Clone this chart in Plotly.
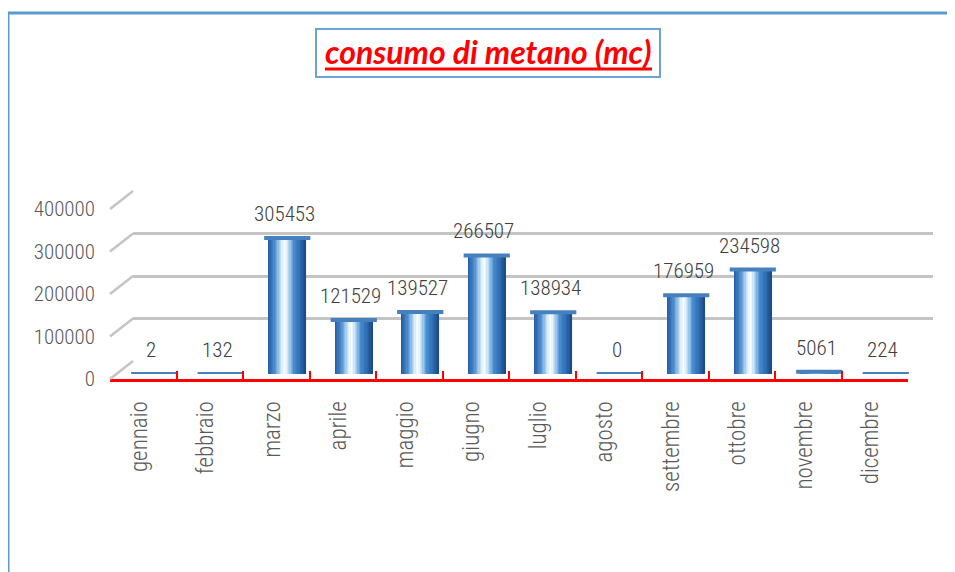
import plotly.graph_objects as go

months = ["gennaio", "febbraio", "marzo", "aprile", "maggio", "giugno",
          "luglio", "agosto", "settembre", "ottobre", "novembre", "dicembre"]
values = [2, 132, 305453, 121529, 139527, 266507, 138934, 0, 176959, 234598, 5061, 224]
y_ticks = [0, 100000, 200000, 300000, 400000]
title_text = "consumo di metano (mc)"

W, H = 955, 572
OX, OY = 8, 8   # page body margin compensation
FONT_N = "Roboto Condensed, Liberation Sans Narrow, Arial Narrow, sans-serif"


def px(x):
    return (x - OX) / W


def py(y):
    return 1 - (y - OY) / H


# front (labels) axes, back wall (grid), bars (middle depth)  -- page pixel positions
front_x = (110, 908)
front_y = (379, 209)   # pixel rows for 0 and 400000
back_x = (133, 933)
back_y = (361, 191)
bar_x = (121, 919)
bar_y = (374, 196)

fig = go.Figure()

# back wall subplot (xy): invisible trace just to create subplot
fig.add_trace(go.Scatter(x=months, y=values, mode="markers", marker=dict(opacity=0),
                         hoverinfo="skip", showlegend=False, xaxis="x", yaxis="y"))

# cylinder-like bars made of vertical strips
stops = [(0.0, (34, 90, 158)), (0.18, (78, 142, 208)), (0.36, (210, 234, 250)),
         (0.45, (255, 255, 255)), (0.56, (176, 214, 242)), (0.70, (70, 138, 204)),
         (0.88, (42, 104, 174)), (1.0, (26, 72, 128))]


def col(t):
    for (t0, c0), (t1, c1) in zip(stops[:-1], stops[1:]):
        if t0 <= t <= t1:
            f = (t - t0) / (t1 - t0) if t1 > t0 else 0
            c = [round(a + (b - a) * f) for a, b in zip(c0, c1)]
            return "rgb(%d,%d,%d)" % tuple(c)
    return "rgb(%d,%d,%d)" % stops[-1][1]


bw = 0.56
n = 28
sw = bw / n
for i in range(n):
    t = (i + 0.5) / n
    fig.add_trace(go.Bar(x=months, y=values, width=sw * 1.15, offset=-bw / 2 + i * sw,
                         marker=dict(color=col(t), line=dict(width=0)),
                         hoverinfo="skip", showlegend=False, xaxis="x2", yaxis="y2"))

# caps / discs on top of bars
fig.add_trace(go.Scatter(x=months, y=values, mode="markers",
                         marker=dict(symbol="line-ew", size=33,
                                     line=dict(width=4, color="rgb(70,128,190)")),
                         hoverinfo="skip", showlegend=False, xaxis="x2", yaxis="y2"))

# front labels subplot
fig.add_trace(go.Scatter(x=months, y=values, mode="markers", marker=dict(opacity=0),
                         hoverinfo="skip", showlegend=False, xaxis="x3", yaxis="y3"))

cat_range = [-0.5, len(months) - 0.5]
yr = [0, 400000]

fig.update_layout(
    width=W, height=H,
    margin=dict(l=0, r=0, t=0, b=0, autoexpand=False),
    paper_bgcolor="white", plot_bgcolor="rgba(0,0,0,0)",
    barmode="overlay",
    showlegend=False,
    xaxis=dict(domain=[px(back_x[0]), px(back_x[1])], range=cat_range, type="category",
               categoryarray=months, visible=False, anchor="y", automargin=False),
    yaxis=dict(domain=[py(back_y[0]), py(back_y[1])], range=yr, tickvals=y_ticks,
               showticklabels=False, showgrid=True, gridcolor="#c4c4c4", gridwidth=3,
               zeroline=False, showline=False, ticks="", anchor="x", automargin=False),
    xaxis2=dict(domain=[px(bar_x[0]), px(bar_x[1])], range=cat_range, type="category",
                categoryarray=months, visible=False, anchor="y2", automargin=False),
    yaxis2=dict(domain=[py(bar_y[0]), py(bar_y[1])], range=yr, visible=False, anchor="x2",
                automargin=False),
    xaxis3=dict(domain=[px(front_x[0]), px(front_x[1])], range=cat_range, type="category",
                categoryarray=months, anchor="y3", showgrid=False, zeroline=False,
                showline=True, linecolor="#ff0000", linewidth=3,
                ticks="inside", tickson="boundaries", tickcolor="#ff0000",
                ticklen=8, tickwidth=2, tickangle=-90,
                ticklabelstandoff=10, ticklabelshift=-4, automargin=False,
                tickfont=dict(family=FONT_N, size=23, color="#595959", weight=300)),
    yaxis3=dict(domain=[py(front_y[0]), py(front_y[1])], range=yr, tickvals=y_ticks,
                ticktext=[str(v) for v in y_ticks], anchor="x3",
                showgrid=False, zeroline=False, showline=False, ticks="",
                ticklabelstandoff=14, automargin=False,
                tickfont=dict(family=FONT_N, size=21, color="#595959", weight=300)),
)

# slanted connectors between front labels and back wall
shapes = []
for v in y_ticks:
    yf = front_y[0] + (front_y[1] - front_y[0]) * v / 400000
    yb = back_y[0] + (back_y[1] - back_y[0]) * v / 400000
    shapes.append(dict(type="line", xref="paper", yref="paper",
                       x0=px(front_x[0]), y0=py(yf), x1=px(back_x[0]), y1=py(yb),
                       line=dict(color="#c4c4c4", width=2.5)))

# outer border (left and top)
shapes.append(dict(type="line", xref="paper", yref="paper", x0=px(8), y0=py(13), x1=px(8), y1=0,
                   line=dict(color="#5b9bd5", width=3)))
shapes.append(dict(type="line", xref="paper", yref="paper", x0=px(8), y0=py(13), x1=1, y1=py(13),
                   line=dict(color="#5b9bd5", width=3)))
# title box
shapes.append(dict(type="rect", xref="paper", yref="paper", x0=px(316), y0=py(77), x1=px(660), y1=py(29),
                   line=dict(color="#6fa3d8", width=2), fillcolor="white", layer="below"))
# title underline
shapes.append(dict(type="line", xref="paper", yref="paper", x0=px(325), y0=py(69), x1=px(652), y1=py(69),
                   line=dict(color="#ff0000", width=3)))
fig.update_layout(shapes=shapes)

annotations = [dict(text="<b><i>" + title_text + "</i></b>", xref="paper", yref="paper",
                    x=px(488), y=py(52), xanchor="center", yanchor="middle", showarrow=False,
                    font=dict(family="Lato, Open Sans, sans-serif", size=32, color="#ff0000"))]
for m, v in zip(months, values):
    annotations.append(dict(text=str(v), x=m, y=v, xref="x2", yref="y2", xanchor="center",
                            yanchor="bottom", yshift=10, xshift=-3, showarrow=False,
                            font=dict(family=FONT_N, size=21, color="#404040", weight=300)))
fig.update_layout(annotations=annotations)

fig.write_html("out.html")
